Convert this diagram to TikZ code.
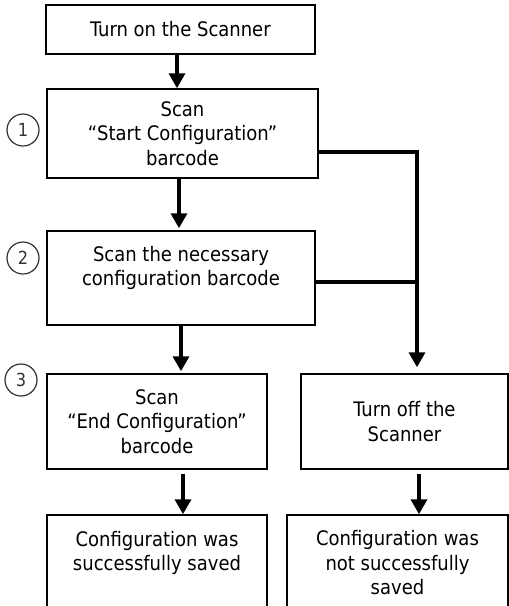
\documentclass[tikz,border=0pt]{standalone}
\usepackage{fontspec}
\setmainfont{DejaVu Sans Condensed}
\usetikzlibrary{arrows.meta, positioning}

\begin{document}
\begin{tikzpicture}[x=1pt, y=-1pt,
		box/.style={draw, line width=1.5pt, inner sep=0pt, align=center,
			font=\fontsize{20}{24.5}\selectfont},
		stepnum/.style={circle, draw=black!80, line width=1.2pt, minimum size=32pt,
			inner sep=0pt, text=black!80, font=\fontsize{18}{18}\selectfont},
		link/.style={line width=3.5pt},
		flow/.style={link, -{Triangle[width=16pt, length=15pt]}}]
	\useasboundingbox (0,0) rectangle (509,606);

	% boxes
	\node[box, minimum width=269pt, minimum height=49pt] (on) at (180.5,29.5) {Turn on the Scanner};
	\node[box, minimum width=271pt, minimum height=89pt] (s1) at (182.5,133.5) {Scan\\“Start Configuration”\\barcode};
	\node[box, minimum width=268pt, minimum height=94pt] (s2) at (181,278) {Scan the necessary\\configuration barcode\\\mbox{}};
	\node[box, minimum width=220pt, minimum height=95pt] (s3) at (157,421.5) {Scan\\“End Configuration”\\barcode};
	\node[box, minimum width=207pt, minimum height=95pt] (off) at (404.5,421.5) {Turn off the\\Scanner};
	\node[box, minimum width=220pt, minimum height=96pt] (ok) at (157,563) {Configuration was\\successfully saved\\\mbox{}};
	\node[box, minimum width=221pt, minimum height=96pt] (fail) at (397.5,563) {Configuration was\\not successfully\\saved};

	% step numbers
	\node[stepnum] (n1) at (23,130) {1};
	\node[stepnum] (n2) at (23,258) {2};
	\node[stepnum] (n3) at (21,380) {3};

	% main flow
	\draw[flow] ([xshift=-3.5pt]on.south) -- ([xshift=-3.5pt]on.south |- s1.north);
	\draw[flow, shorten >=2pt] ([xshift=-3.5pt]s1.south) -- ([xshift=-3.5pt]s1.south |- s2.north);
	\draw[flow, shorten >=2pt] (s2.south) -- (s2.south |- s3.north);
	\draw[flow, shorten <=4pt] ([xshift=26pt]s3.south) -- ([xshift=26pt]s3.south |- ok.north);

	% abort branch
	\coordinate (bus) at ([xshift=12.5pt]off.north);
	\draw[flow, shorten >=6pt] ([yshift=-18.5pt]s1.east) -| (bus);
	\draw[link] ([yshift=-4pt]s2.east) -- ([yshift=-4pt]s2.east -| bus);
	\draw[flow, shorten <=4pt] ([xshift=14.5pt]off.south) -- ([xshift=14.5pt]off.south |- fail.north);
\end{tikzpicture}
\end{document}
